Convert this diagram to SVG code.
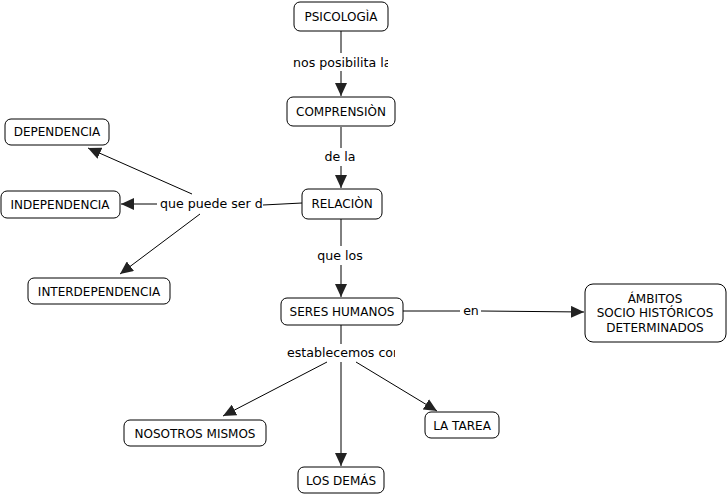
<svg xmlns="http://www.w3.org/2000/svg" width="728" height="498" viewBox="0 0 728 498">
<defs>
<marker id="ah" markerUnits="userSpaceOnUse" markerWidth="14" markerHeight="12" refX="13" refY="6" orient="auto">
<path d="M0,0 L13,6 L0,12 Z" fill="#222"/>
</marker>
<clipPath id="cl1"><rect x="280" y="50" width="108" height="22"/></clipPath>
<clipPath id="cl2"><rect x="150" y="194" width="113" height="22"/></clipPath>
<clipPath id="cl3"><rect x="280" y="343" width="115" height="22"/></clipPath>
<style>
.n rect{fill:#fff;stroke:#000;stroke-width:1}
text{font-family:"DejaVu Sans",Verdana,sans-serif;font-size:12px;fill:#000;text-anchor:middle}
.l{font-size:12.6px}
.s{text-anchor:start}
.c line{stroke:#000;stroke-width:1}
.c .a{marker-end:url(#ah)}
</style>
</defs>
<rect width="728" height="498" fill="#fff"/>
<g class="c" id="connectors">
<line x1="341" y1="31" x2="341" y2="53"/>
<line class="a" x1="341" y1="71" x2="341" y2="96"/>
<line x1="341" y1="127" x2="341" y2="148"/>
<line class="a" x1="341" y1="166" x2="341" y2="188"/>
<line x1="263" y1="205" x2="302" y2="203"/>
<line class="a" x1="157" y1="204" x2="121" y2="204"/>
<line class="a" x1="192" y1="194" x2="88" y2="148"/>
<line class="a" x1="200" y1="214" x2="120" y2="274"/>
<line x1="341" y1="219" x2="341" y2="246"/>
<line class="a" x1="341" y1="265" x2="341" y2="297"/>
<line x1="403" y1="311" x2="460" y2="311"/>
<line class="a" x1="481" y1="311" x2="584" y2="312"/>
<line x1="341" y1="325" x2="341" y2="344"/>
<line class="a" x1="341" y1="362" x2="341" y2="466"/>
<line class="a" x1="327" y1="362" x2="223" y2="416"/>
<line class="a" x1="356" y1="362" x2="437" y2="411"/>
</g>
<g id="labels">
<text class="l s" x="293" y="67" clip-path="url(#cl1)">nos posibilita la</text>
<text class="l" x="340" y="161">de la</text>
<text class="l s" x="160" y="208" clip-path="url(#cl2)">que puede ser de</text>
<text class="l" x="340" y="260">que los</text>
<text class="l" x="471" y="315">en</text>
<text class="l s" x="287" y="357" clip-path="url(#cl3)">establecemos con</text>
</g>
<g class="n" id="psicologia"><rect x="294" y="2" width="94" height="29" rx="6"/><text x="341" y="21">PSICOLOGÌA</text></g>
<g class="n" id="comprension"><rect x="287" y="97" width="108" height="29" rx="6"/><text x="341" y="116">COMPRENSIÒN</text></g>
<g class="n" id="relacion"><rect x="302" y="189" width="80" height="30" rx="6"/><text x="342" y="208">RELACIÒN</text></g>
<g class="n" id="dependencia"><rect x="5" y="119" width="104" height="26" rx="6"/><text x="57" y="136">DEPENDENCIA</text></g>
<g class="n" id="independencia"><rect x="1" y="191" width="119" height="27" rx="6"/><text x="60" y="209">INDEPENDENCIA</text></g>
<g class="n" id="interdependencia"><rect x="28" y="278" width="142" height="26" rx="6"/><text x="99" y="296">INTERDEPENDENCIA</text></g>
<g class="n" id="seres"><rect x="281" y="298" width="122" height="27" rx="6"/><text x="342" y="316">SERES HUMANOS</text></g>
<g class="n" id="ambitos"><rect x="585" y="284" width="141" height="58" rx="8"/><text x="655" y="303">ÁMBITOS</text><text x="655" y="317">SOCIO HISTÓRICOS</text><text x="655" y="332">DETERMINADOS</text></g>
<g class="n" id="nosotros"><rect x="124" y="420" width="142" height="26" rx="6"/><text x="195" y="438">NOSOTROS MISMOS</text></g>
<g class="n" id="demas"><rect x="298" y="467" width="86" height="26" rx="6"/><text x="341" y="485">LOS DEMÁS</text></g>
<g class="n" id="tarea"><rect x="425" y="412" width="74" height="26" rx="6"/><text x="462" y="430">LA TAREA</text></g>
</svg>
